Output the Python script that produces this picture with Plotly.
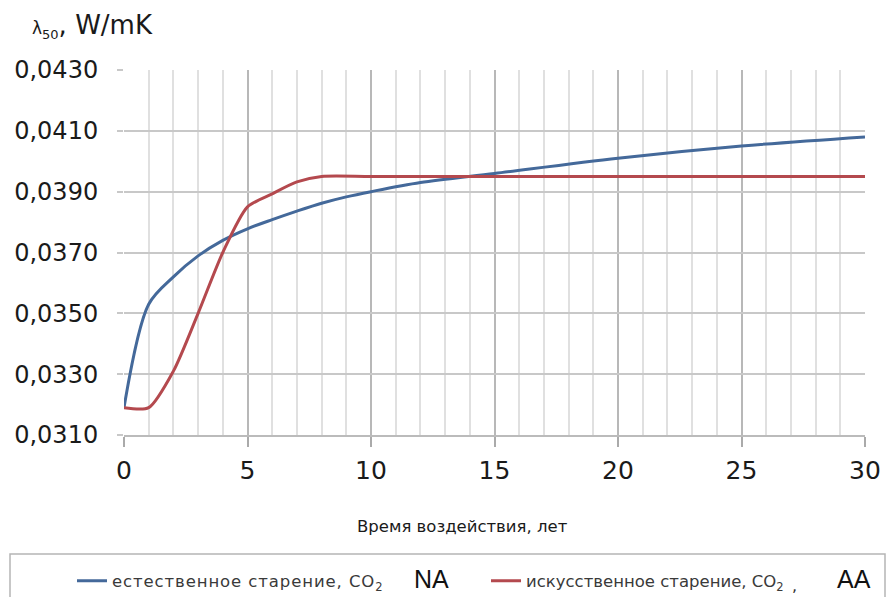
import plotly.graph_objects as go

# Thermal conductivity λ50 (W/mK) versus exposure time (years)
years_natural = [0, 1, 2, 3, 4, 5, 6, 7, 8, 9, 10, 12, 15, 20, 25, 30]
lambda_natural = [0.0319, 0.0353, 0.0362, 0.03689, 0.0374, 0.03778, 0.03808, 0.03836,
                  0.03862, 0.03883, 0.0390, 0.0393, 0.0396, 0.0401, 0.0405, 0.0408]

years_artificial = [0, 1, 2, 3, 4, 5, 6, 7, 8, 10, 15, 20, 25, 30]
lambda_artificial = [0.0319, 0.0319, 0.0331, 0.0350, 0.0370, 0.0385, 0.03893, 0.03932,
                     0.0395, 0.0395, 0.0395, 0.0395, 0.0395, 0.0395]

name_natural = "<span style='letter-spacing:0.9px'>естественное старение, CO</span><sub>2</sub>"
name_artificial = "искусственное старение, CO<sub>2</sub>"
x_ticks = [0, 5, 10, 15, 20, 25, 30]
y_ticks = [0.031, 0.033, 0.035, 0.037, 0.039, 0.041, 0.043]

W, H = 889, 597
L, R, T, B = 124, 24, 70, 162
PW, PH = W - L - R, H - T - B

def px(x):
    return (x - L) / PW

def py(y):
    return (H - B - y) / PH

BLUE = "#44699a"
RED = "#b4494e"
FONT = "DejaVu Sans"
LEGEND_FONT = dict(size=16.5, color="#3a3a3a", family=FONT)

fig = go.Figure()
fig.add_trace(go.Scatter(x=years_natural, y=lambda_natural, mode="lines",
                         line=dict(color=BLUE, width=3, shape="spline", smoothing=0.9),
                         name=name_natural, legend="legend"))
fig.add_trace(go.Scatter(x=years_artificial, y=lambda_artificial, mode="lines",
                         line=dict(color=RED, width=3, shape="spline", smoothing=0.7),
                         name=name_artificial, legend="legend2"))

fig.update_layout(
    width=W, height=H,
    margin=dict(l=L, r=R, t=T, b=B, autoexpand=False),
    paper_bgcolor="white", plot_bgcolor="white",
    separators=", ",
    font=dict(family=FONT, color="#1a1a1a"),
    showlegend=True,
    legend=dict(x=px(72), xanchor="left", y=py(581), yanchor="middle",
                font=LEGEND_FONT, bgcolor="rgba(0,0,0,0)", borderwidth=0),
    legend2=dict(x=px(486), xanchor="left", y=py(581), yanchor="middle",
                 font=LEGEND_FONT, bgcolor="rgba(0,0,0,0)", borderwidth=0),
    xaxis=dict(range=[0, 30], tickvals=x_ticks, ticks="outside", ticklen=10,
               tickcolor="#aaaaaa", tickwidth=1.5,
               showline=True, linecolor="#bbbbbb", linewidth=1.5,
               showgrid=True, gridcolor="#b8b8b8", gridwidth=1.5,
               minor=dict(dtick=1, showgrid=True, gridcolor="#e0e0e0", gridwidth=1.5),
               tickfont=dict(size=25, family=FONT, color="#1a1a1a"),
               ticklabelstandoff=2, zeroline=False),
    yaxis=dict(range=[0.031, 0.043], tickvals=y_ticks, tickformat=".4f",
               ticks="outside", ticklen=6, tickcolor="#c8c8c8", tickwidth=1.5,
               showgrid=True, gridcolor="#c8c8c8", gridwidth=1.5,
               showline=False, zeroline=False,
               tickfont=dict(size=24, family=FONT, color="#1a1a1a"),
               ticklabelstandoff=14),
)

# y-axis title in the top-left corner
fig.add_annotation(x=px(30), y=py(26), xref="paper", yref="paper",
                   xanchor="left", yanchor="middle", showarrow=False,
                   text="<span style='font-size:17px'>λ</span><sub><span style='font-size:13px'>50</span></sub>, W/mK",
                   font=dict(size=26, family=FONT, color="#1a1a1a"))

# x-axis title
fig.add_annotation(x=px(462), y=py(526), xref="paper", yref="paper",
                   xanchor="center", yanchor="middle", showarrow=False,
                   text="Время воздействия, лет",
                   font=dict(size=16.5, family=FONT, color="#1a1a1a"))

# legend frame and the NA / AA labels
fig.add_shape(type="rect", xref="paper", yref="paper",
              x0=px(10), x1=px(885), y0=py(610), y1=py(554),
              line=dict(color="#b5b5b5", width=1.5), fillcolor="rgba(0,0,0,0)")
fig.add_annotation(x=px(431), y=py(579), xref="paper", yref="paper",
                   xanchor="center", yanchor="middle",
                   showarrow=False, text="NA",
                   font=dict(size=25, family="Liberation Sans", color="#111111"))
fig.add_annotation(x=px(794), y=py(585), xref="paper", yref="paper",
                   xanchor="center", yanchor="middle",
                   showarrow=False, text=",",
                   font=dict(size=16, family=FONT, color="#333333"))
fig.add_annotation(x=px(854), y=py(579), xref="paper", yref="paper",
                   xanchor="center", yanchor="middle",
                   showarrow=False, text="AA",
                   font=dict(size=25, family="Liberation Sans", color="#111111"))

fig.write_html("out.html")
